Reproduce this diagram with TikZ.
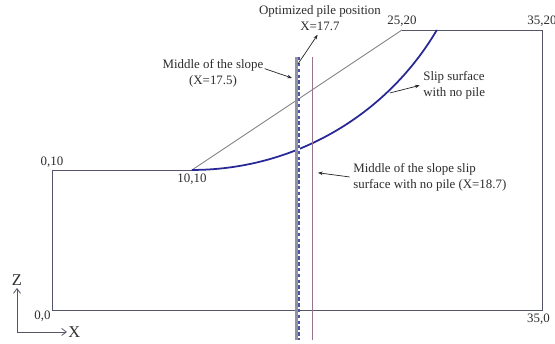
\documentclass[tikz,border=0pt]{standalone}
\usepackage{fontspec}
\setmainfont{Liberation Serif}
\definecolor{framegray}{RGB}{85,85,105}
\definecolor{slopegray}{RGB}{125,125,125}
\definecolor{slipblue}{RGB}{40,40,150}
\definecolor{mauveline}{RGB}{150,115,145}
\definecolor{pilegray}{RGB}{145,145,160}
\definecolor{piledash}{RGB}{75,85,165}
\definecolor{textgray}{RGB}{45,45,45}
\usetikzlibrary{arrows.meta,positioning}

\begin{document}
\begin{tikzpicture}[x=0.42cm,y=0.42cm,
    lbl/.style={text=textgray,font=\fontsize{11}{13.6}\selectfont,inner sep=1pt},
    ptr/.style={-{Stealth[length=4pt,width=3pt]},line width=0.6pt,draw=black!85},
    axis/.style={-{Straight Barb[length=4pt,width=6pt]},line width=0.7pt,draw=framegray}]
  \useasboundingbox[fill=white] (-3.714,-2.429) rectangle (35.93,22.14);
  % corners of the slope model
  \coordinate (c00) at (0,0);
  \coordinate (c010) at (0,10);
  \coordinate (c1010) at (10,10);
  \coordinate (c2520) at (25,20);
  \coordinate (c3520) at (35,20);
  \coordinate (c350) at (35,0);
  \draw[framegray,line width=0.75pt] (c1010) -- (c010) -- (c00) -- (c350) -- (c3520) -- (c2520);
  \draw[slopegray,line width=0.75pt] (c1010) -- (c2520);
  % slip surface without pile
  \draw[slipblue,line width=1.5pt] (c1010) arc[start angle=-90,end angle=-30.5,radius=20.3];
  % pile and middle lines
  \coordinate (pileTop) at (17.47,18.07);
  \coordinate (pileBot) at (17.47,-2.14);
  \draw[pilegray,line width=3pt] (pileTop) -- (pileBot);
  \draw[white,line width=1.3pt] ([xshift=2pt]pileTop) -- ([xshift=2pt]pileBot);
  \draw[piledash,line width=1.3pt,dash pattern=on 3pt off 2pt] ([xshift=2pt]pileTop) -- ([xshift=2pt]pileBot);
  \coordinate (midTop) at (18.6,18.07);
  \coordinate (midBot) at (18.6,-2.14);
  \draw[mauveline,line width=0.8pt] (midTop) -- (midBot);
  % corner labels
  \node[lbl,above=1pt of c010] (l010) {0,10};
  \node[lbl,below=2pt of c1010] (l1010) {10,10};
  \node[lbl,above=2pt of c2520] (l2520) {25,20};
  \node[lbl,above=2pt of c3520] (l3520) {35,20};
  \node[lbl,below=2pt of c350,xshift=-3pt] (l350) {35,0};
  \node[lbl,below left=0pt and 0pt of c00] (l00) {0,0};
  % callouts
  \node[lbl,align=center] (optLbl) at (19.14,20.82) {Optimized pile position\\X=17.7};
  \node[lbl,align=center] (slopeLbl) at (11.5,16.9) {Middle of the slope\\(X=17.5)};
  \node[lbl,align=left,anchor=west] (slipLbl) at (26.43,16.04) {Slip surface\\with no pile};
  \node[lbl,align=left,anchor=west] (midLbl) at (21.43,9.5) {Middle of the slope slip\\surface with no pile (X=18.7)};
  \coordinate (optTail) at (17.57,17.57);
  \coordinate (slopeHead) at (17.14,16.57);
  \coordinate (slipTail) at (24.14,15.5);
  \coordinate (midHead) at (19.0,9.8);
  \draw[ptr] (optTail) -- ([xshift=-2pt,yshift=-2pt]optLbl.south);
  \draw[ptr] ([yshift=4pt]slopeLbl.east) -- (slopeHead);
  \draw[ptr] (slipTail) -- ([xshift=-2pt]slipLbl.west);
  \draw[ptr] ([xshift=-2pt]midLbl.west) -- (midHead);
  % axes
  \coordinate (ax0) at (-2.5,-1.57);
  \coordinate (axZ) at (-2.5,1.57);
  \coordinate (axX) at (1.07,-1.57);
  \draw[axis] (ax0) -- (axZ);
  \draw[axis] (ax0) -- (axX);
  \node[text=textgray,font=\fontsize{14}{16}\selectfont,inner sep=0pt,above=2pt of axZ] (zLbl) {Z};
  \node[text=textgray,font=\fontsize{14}{16}\selectfont,inner sep=0pt,right=1pt of axX] (xLbl) {X};
\end{tikzpicture}
\end{document}
